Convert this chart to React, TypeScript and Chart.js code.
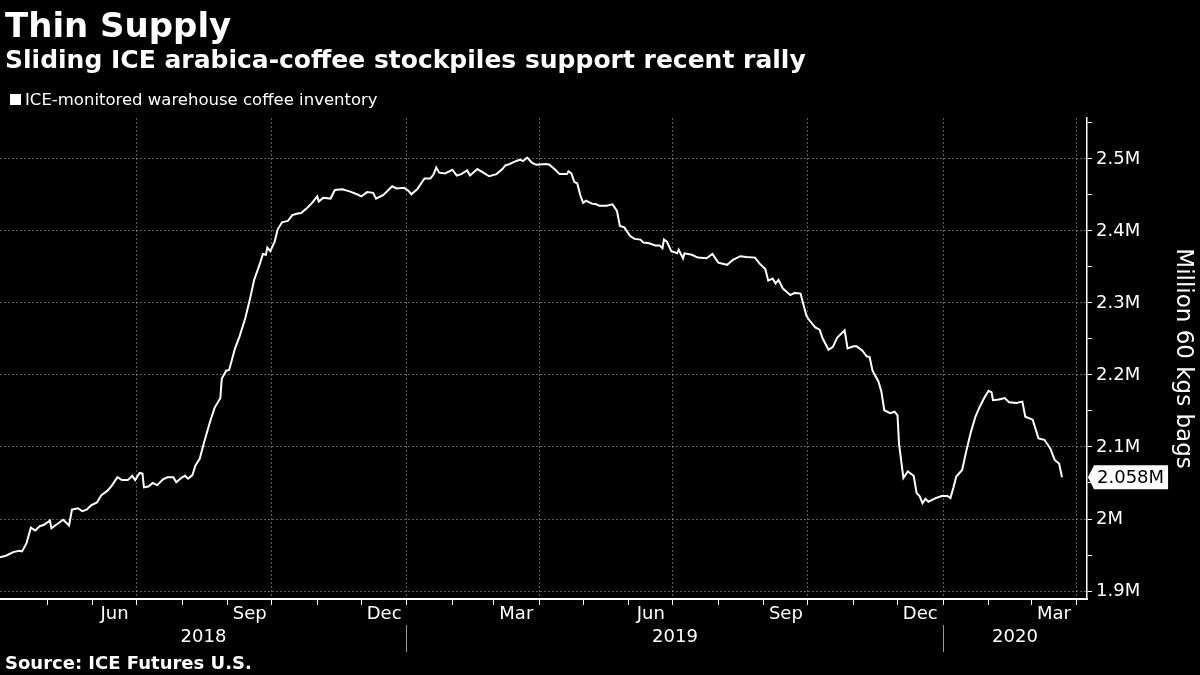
import { useEffect, useRef } from 'react';
import { Chart, registerables } from 'chart.js';

Chart.register(...registerables);

const TITLE = 'Thin Supply';
const SUBTITLE = 'Sliding ICE arabica-coffee stockpiles support recent rally';
const SERIES_NAME = 'ICE-monitored warehouse coffee inventory';
const SOURCE = 'Source: ICE Futures U.S.';
const Y_TITLE = 'Million 60 kgs bags';

const dates = [
  '2018-03-30', '2018-04-03', '2018-04-08', '2018-04-12', '2018-04-14', '2018-04-17', '2018-04-20', '2018-04-23',
  '2018-04-26', '2018-04-29', '2018-05-03', '2018-05-04', '2018-05-08', '2018-05-12', '2018-05-16', '2018-05-18',
  '2018-05-22', '2018-05-25', '2018-05-28', '2018-05-31', '2018-06-04', '2018-06-07', '2018-06-11', '2018-06-14',
  '2018-06-18', '2018-06-21', '2018-06-25', '2018-06-28', '2018-06-30', '2018-07-03', '2018-07-05', '2018-07-06',
  '2018-07-09', '2018-07-12', '2018-07-15', '2018-07-19', '2018-07-22', '2018-07-26', '2018-07-28', '2018-08-01',
  '2018-08-03', '2018-08-05', '2018-08-08', '2018-08-10', '2018-08-13', '2018-08-16', '2018-08-20', '2018-08-23',
  '2018-08-27', '2018-08-28', '2018-08-31', '2018-09-02', '2018-09-06', '2018-09-09', '2018-09-13', '2018-09-16',
  '2018-09-19', '2018-09-23', '2018-09-25', '2018-09-27', '2018-09-28', '2018-09-30', '2018-10-03', '2018-10-05',
  '2018-10-08', '2018-10-12', '2018-10-15', '2018-10-18', '2018-10-21', '2018-10-25', '2018-10-28', '2018-11-01',
  '2018-11-02', '2018-11-05', '2018-11-10', '2018-11-13', '2018-11-18', '2018-11-23', '2018-11-28', '2018-12-01',
  '2018-12-05', '2018-12-09', '2018-12-11', '2018-12-16', '2018-12-22', '2018-12-25', '2018-12-30', '2019-01-02',
  '2019-01-04', '2019-01-08', '2019-01-13', '2019-01-17', '2019-01-19', '2019-01-21', '2019-01-23', '2019-01-27',
  '2019-02-01', '2019-02-04', '2019-02-07', '2019-02-11', '2019-02-13', '2019-02-18', '2019-02-22', '2019-02-26',
  '2019-03-03', '2019-03-07', '2019-03-09', '2019-03-12', '2019-03-15', '2019-03-19', '2019-03-21', '2019-03-24',
  '2019-03-27', '2019-03-30', '2019-04-06', '2019-04-08', '2019-04-12', '2019-04-15', '2019-04-20', '2019-04-21',
  '2019-04-23', '2019-04-25', '2019-04-27', '2019-04-29', '2019-05-01', '2019-05-03', '2019-05-07', '2019-05-10',
  '2019-05-12', '2019-05-17', '2019-05-21', '2019-05-24', '2019-05-26', '2019-05-29', '2019-06-02', '2019-06-05',
  '2019-06-09', '2019-06-11', '2019-06-15', '2019-06-19', '2019-06-22', '2019-06-24', '2019-06-25', '2019-06-27',
  '2019-06-30', '2019-07-04', '2019-07-05', '2019-07-08', '2019-07-09', '2019-07-14', '2019-07-18', '2019-07-24',
  '2019-07-28', '2019-08-01', '2019-08-07', '2019-08-11', '2019-08-16', '2019-08-20', '2019-08-26', '2019-08-29',
  '2019-09-02', '2019-09-04', '2019-09-07', '2019-09-09', '2019-09-11', '2019-09-14', '2019-09-19', '2019-09-22',
  '2019-09-26', '2019-09-30', '2019-10-02', '2019-10-06', '2019-10-09', '2019-10-11', '2019-10-15', '2019-10-18',
  '2019-10-21', '2019-10-26', '2019-10-28', '2019-11-01', '2019-11-03', '2019-11-07', '2019-11-10', '2019-11-12',
  '2019-11-14', '2019-11-18', '2019-11-20', '2019-11-22', '2019-11-26', '2019-11-29', '2019-12-01', '2019-12-02',
  '2019-12-05', '2019-12-08', '2019-12-12', '2019-12-14', '2019-12-16', '2019-12-18', '2019-12-20', '2019-12-22',
  '2019-12-27', '2019-12-31', '2020-01-04', '2020-01-06', '2020-01-08', '2020-01-10', '2020-01-14', '2020-01-17',
  '2020-01-20', '2020-01-23', '2020-01-26', '2020-01-29', '2020-02-01', '2020-02-03', '2020-02-04', '2020-02-08',
  '2020-02-12', '2020-02-15', '2020-02-20', '2020-02-24', '2020-02-26', '2020-03-02', '2020-03-06', '2020-03-10',
  '2020-03-14', '2020-03-17', '2020-03-20', '2020-03-22',
];

const values = [
  1.947, 1.949, 1.954, 1.956, 1.955, 1.966, 1.988, 1.984,
  1.990, 1.992, 1.998, 1.987, 1.993, 1.999, 1.991, 2.013,
  2.015, 2.011, 2.013, 2.019, 2.023, 2.033, 2.039, 2.046,
  2.058, 2.054, 2.054, 2.060, 2.054, 2.064, 2.063, 2.044,
  2.045, 2.050, 2.047, 2.055, 2.058, 2.058, 2.051, 2.058,
  2.060, 2.056, 2.061, 2.074, 2.084, 2.107, 2.135, 2.154,
  2.168, 2.195, 2.206, 2.207, 2.237, 2.253, 2.279, 2.304,
  2.332, 2.355, 2.368, 2.367, 2.377, 2.372, 2.385, 2.402,
  2.412, 2.414, 2.422, 2.424, 2.425, 2.432, 2.438, 2.448,
  2.441, 2.446, 2.445, 2.457, 2.458, 2.455, 2.451, 2.448,
  2.454, 2.453, 2.445, 2.450, 2.462, 2.459, 2.460, 2.456,
  2.451, 2.458, 2.473, 2.473, 2.478, 2.488, 2.481, 2.480,
  2.485, 2.477, 2.479, 2.484, 2.477, 2.486, 2.481, 2.476,
  2.479, 2.486, 2.491, 2.493, 2.496, 2.499, 2.497, 2.502,
  2.495, 2.492, 2.493, 2.492, 2.485, 2.479, 2.479, 2.483,
  2.480, 2.468, 2.466, 2.450, 2.439, 2.442, 2.438, 2.437,
  2.435, 2.435, 2.437, 2.428, 2.407, 2.405, 2.393, 2.389,
  2.388, 2.384, 2.383, 2.380, 2.380, 2.376, 2.388, 2.385,
  2.372, 2.369, 2.374, 2.362, 2.369, 2.367, 2.363, 2.362,
  2.368, 2.356, 2.353, 2.360, 2.365, 2.364, 2.363, 2.355,
  2.347, 2.331, 2.334, 2.327, 2.332, 2.320, 2.311, 2.314,
  2.313, 2.282, 2.276, 2.266, 2.263, 2.251, 2.235, 2.239,
  2.252, 2.262, 2.237, 2.240, 2.240, 2.234, 2.226, 2.225,
  2.206, 2.191, 2.177, 2.151, 2.147, 2.149, 2.144, 2.105,
  2.057, 2.066, 2.060, 2.036, 2.032, 2.022, 2.028, 2.024,
  2.029, 2.032, 2.032, 2.029, 2.043, 2.059, 2.068, 2.096,
  2.121, 2.142, 2.156, 2.168, 2.178, 2.176, 2.165, 2.166,
  2.168, 2.162, 2.161, 2.163, 2.142, 2.138, 2.112, 2.110,
  2.098, 2.082, 2.077, 2.058,
];

const X_START = '2018-03-30';
const X_END = '2020-04-08';
const Y_MIN = 1.8889;
const Y_MAX = 2.5569;
const yTickValues = [1.9, 1.95, 2.0, 2.05, 2.1, 2.15, 2.2, 2.25, 2.3, 2.35, 2.4, 2.45, 2.5, 2.55];
const MONTH_NAMES = ['Jan', 'Feb', 'Mar', 'Apr', 'May', 'Jun', 'Jul', 'Aug', 'Sep', 'Oct', 'Nov', 'Dec'];
const LABELLED_MONTHS = [2, 5, 8, 11];
const GRID_MONTHS = [0, 3, 6, 9];

const FONT = "'DejaVu Sans', 'Noto Sans', sans-serif";
const GRID_COLOR = 'rgba(255,255,255,0.36)';

const dayNum = (s: string) => {
  const [y, m, d] = s.split('-').map(Number);
  return Date.UTC(y, m - 1, d) / 86400000;
};
const utcDay = (y: number, m: number) => Date.UTC(y, m, 1) / 86400000;

function buildAxes() {
  const xMin = dayNum(X_START);
  const xMax = dayNum(X_END);
  const monthTicks: number[] = [];
  const gridTicks = new Set<number>();
  const labelMap = new Map<number, string>();
  const sy = Number(X_START.slice(0, 4));
  const ey = Number(X_END.slice(0, 4));
  for (let y = sy; y <= ey; y++) {
    for (let m = 0; m < 12; m++) {
      const start = utcDay(y, m);
      const next = utcDay(y, m + 1);
      // skip month boundaries that sit right on the left edge of the plot
      if (start >= xMin + 4 && start <= xMax) {
        monthTicks.push(start);
        if (GRID_MONTHS.includes(m)) gridTicks.add(start);
      }
      const mid = (start + next) / 2;
      if (LABELLED_MONTHS.includes(m) && mid > xMin && mid < xMax) {
        labelMap.set(mid, MONTH_NAMES[m]);
      }
    }
  }
  const xTicks = [...monthTicks, ...labelMap.keys()].sort((a, b) => a - b);

  const yearLabelMap = new Map<number, string>();
  const yearSeps = new Set<number>();
  for (let y = sy; y <= ey; y++) {
    const a = Math.max(xMin, utcDay(y, 0));
    const b = Math.min(xMax, utcDay(y + 1, 0));
    if (b > a) yearLabelMap.set((a + b) / 2, String(y));
    const jan = utcDay(y, 0);
    if (jan > xMin && jan < xMax) yearSeps.add(jan);
  }
  const yearTicks = [...yearLabelMap.keys(), ...yearSeps].sort((a, b) => a - b);
  return { xMin, xMax, xTicks, gridTicks, labelMap, yearTicks, yearLabelMap, yearSeps };
}

const isMajorY = (v: number) => Math.round(v * 100) % 10 === 0;
const fmtY = (v: number) => `${Number(v.toFixed(1))}M`;

const lastValuePlugin = {
  id: 'lastValue',
  afterDraw(chart: any) {
    const ys = chart.scales.y;
    const ctx = chart.ctx as CanvasRenderingContext2D;
    const v = values[values.length - 1];
    const py = ys.getPixelForValue(v);
    const x0 = ys.left;
    const text = `${v.toFixed(3)}M`;
    ctx.save();
    ctx.font = `18px ${FONT}`;
    const w = ctx.measureText(text).width;
    const h = 24;
    const bx = x0 + 7;
    const right = bx + 3 + w + 4;
    ctx.fillStyle = '#ffffff';
    ctx.beginPath();
    ctx.moveTo(x0 + 1, py);
    ctx.lineTo(bx, py - h / 2);
    ctx.lineTo(right, py - h / 2);
    ctx.lineTo(right, py + h / 2);
    ctx.lineTo(bx, py + h / 2);
    ctx.closePath();
    ctx.fill();
    ctx.fillStyle = '#000000';
    ctx.textAlign = 'left';
    ctx.textBaseline = 'middle';
    ctx.fillText(text, bx + 3, py + 1);
    ctx.restore();
  },
};

function ChartCanvas() {
  const ref = useRef<HTMLCanvasElement | null>(null);
  useEffect(() => {
    if (!ref.current) return;
    const ax = buildAxes();
    Chart.defaults.font.family = FONT;
    const chart = new Chart(ref.current, {
      type: 'line',
      data: {
        datasets: [
          {
            label: SERIES_NAME,
            data: dates.map((d, i) => ({ x: dayNum(d), y: values[i] })),
            borderColor: '#ffffff',
            borderWidth: 2,
            pointRadius: 0,
            tension: 0,
            fill: false,
          },
        ],
      },
      options: {
        animation: false,
        responsive: false,
        events: [],
        layout: { padding: { top: 118, left: 0, right: 0, bottom: 14 } },
        plugins: { legend: { display: false }, tooltip: { enabled: false }, title: { display: false } },
        scales: {
          x: {
            type: 'linear',
            position: 'bottom',
            weight: 0,
            min: ax.xMin,
            max: ax.xMax,
            afterBuildTicks: (s: any) => {
              s.ticks = ax.xTicks.map((v) => ({ value: v }));
            },
            afterFit: (s: any) => {
              s.height = 26;
            },
            ticks: {
              autoSkip: false,
              maxRotation: 0,
              minRotation: 0,
              color: '#ffffff',
              font: { size: 18 },
              padding: -1,
              callback: (v: any) => ax.labelMap.get(v) ?? '',
            },
            grid: {
              color: (c: any) => (ax.gridTicks.has(c.tick?.value) ? GRID_COLOR : 'transparent'),
              tickColor: (c: any) => (ax.labelMap.has(c.tick?.value) ? 'transparent' : '#ffffff'),
              tickLength: 6,
              lineWidth: 1,
            },
            border: { color: '#ffffff', width: 2, dash: [2, 2] },
          },
          xYear: {
            type: 'linear',
            position: 'bottom',
            weight: 1,
            min: ax.xMin,
            max: ax.xMax,
            afterBuildTicks: (s: any) => {
              s.ticks = ax.yearTicks.map((v) => ({ value: v }));
            },
            afterFit: (s: any) => {
              s.height = 36;
            },
            ticks: {
              autoSkip: false,
              maxRotation: 0,
              minRotation: 0,
              color: '#ffffff',
              font: { size: 18 },
              padding: -25,
              callback: (v: any) => ax.yearLabelMap.get(v) ?? '',
            },
            grid: {
              drawOnChartArea: false,
              color: 'transparent',
              tickColor: (c: any) => (ax.yearSeps.has(c.tick?.value) ? '#9a9a9a' : 'transparent'),
              tickLength: 27,
            },
            border: { display: false },
          },
          y: {
            type: 'linear',
            position: 'right',
            min: Y_MIN,
            max: Y_MAX,
            afterBuildTicks: (s: any) => {
              s.ticks = yTickValues.map((v) => ({ value: v }));
            },
            afterFit: (s: any) => {
              s.width = 113;
            },
            ticks: {
              autoSkip: false,
              color: '#ffffff',
              font: { size: 18 },
              padding: 4,
              callback: (v: any) => (isMajorY(v) ? fmtY(v) : ''),
            },
            grid: {
              color: (c: any) => (isMajorY(c.tick?.value ?? 0) ? GRID_COLOR : 'transparent'),
              tickColor: '#ffffff',
              tickLength: 5,
              lineWidth: 1,
            },
            border: { color: '#ffffff', width: 1.5, dash: [2, 2] },
            title: {
              display: true,
              text: Y_TITLE,
              color: '#ffffff',
              font: { size: 23 },
              padding: { top: 3, bottom: 0 },
            },
          },
        },
      },
      plugins: [lastValuePlugin],
    } as any);
    return () => chart.destroy();
  }, []);
  return (
    <canvas
      ref={ref}
      width={1200}
      height={675}
      style={{ position: 'absolute', left: 0, top: 0, width: 1200, height: 675 }}
    />
  );
}

export default function App() {
  return (
    <div
      style={{
        position: 'absolute',
        left: 0,
        top: 0,
        width: 1200,
        height: 675,
        background: '#000000',
        color: '#ffffff',
        fontFamily: FONT,
        overflow: 'hidden',
      }}
    >
      <ChartCanvas />
      <div style={{ position: 'absolute', left: 5, top: 5, fontSize: 34, fontWeight: 'bold', whiteSpace: 'nowrap' }}>
        {TITLE}
      </div>
      <div style={{ position: 'absolute', left: 5, top: 45, fontSize: 25, fontWeight: 'bold', whiteSpace: 'nowrap' }}>
        {SUBTITLE}
      </div>
      <div style={{ position: 'absolute', left: 10, top: 90, fontSize: 16.5, whiteSpace: 'nowrap', display: 'flex', alignItems: 'center' }}>
        <span style={{ display: 'inline-block', width: 11, height: 11, background: '#ffffff', marginRight: 4 }} />
        <span>{SERIES_NAME}</span>
      </div>
      <div style={{ position: 'absolute', left: 5, top: 652, fontSize: 18, fontWeight: 'bold', whiteSpace: 'nowrap' }}>
        {SOURCE}
      </div>
    </div>
  );
}
